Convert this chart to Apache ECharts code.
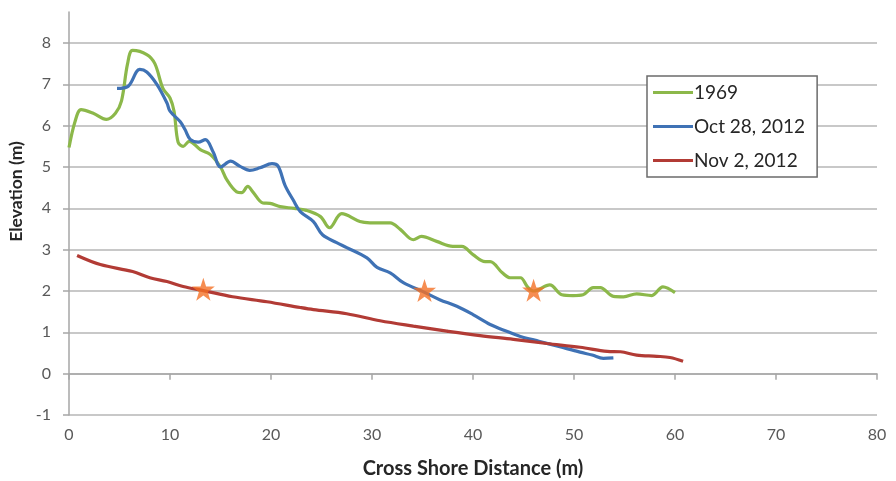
<!DOCTYPE html>
<html>
<head>
<meta charset="utf-8">
<script src="https://cdn.jsdelivr.net/npm/echarts@6/dist/echarts.min.js"></script>
<style>
html,body{margin:0;padding:0;background:#fff;}
#chart{width:896px;height:481px;}
</style>
</head>
<body>
<div id="chart"></div>
<script>
var seriesNames = ['1969', 'Oct 28, 2012', 'Nov 2, 2012'];
var xTicks = [0, 10, 20, 30, 40, 50, 60, 70, 80];
var yTicks = [-1, 0, 1, 2, 3, 4, 5, 6, 7, 8];

var data1969 = [
  [0, 5.47], [0.6, 6.1], [1.2, 6.39], [2.4, 6.3], [3.7, 6.15], [4.6, 6.3], [5.2, 6.6],
  [5.8, 7.5], [6.3, 7.82], [7.7, 7.72], [8.5, 7.5], [9.3, 6.9], [10, 6.67], [10.4, 6.35],
  [10.8, 5.6], [11.3, 5.5], [11.9, 5.62], [13, 5.42], [14, 5.3], [15, 5.0], [15.6, 4.7],
  [16.6, 4.4], [17.1, 4.38], [17.7, 4.53], [18.2, 4.4], [19.2, 4.13], [19.9, 4.12],
  [20.9, 4.04], [22.3, 4.0], [23.5, 3.95], [24.9, 3.8], [25.8, 3.53], [27, 3.87],
  [28.8, 3.68], [29.8, 3.65], [31.8, 3.65], [32.8, 3.49], [34.1, 3.24], [34.9, 3.32],
  [36.4, 3.2], [38, 3.08], [38.9, 3.08], [40, 2.88], [41.2, 2.71], [41.7, 2.71],
  [42.9, 2.44], [43.7, 2.32], [44.7, 2.32], [45.4, 2.1], [46, 2.0], [47.6, 2.15],
  [48.8, 1.91], [49.9, 1.89], [50.9, 1.91], [51.9, 2.08], [52.6, 2.08], [53.9, 1.87],
  [54.9, 1.86], [56.2, 1.93], [57.7, 1.89], [58.8, 2.1], [60, 1.96]
];
var dataOct = [
  [4.75, 6.9], [5.85, 6.95], [7.0, 7.36], [7.7, 7.3], [8.7, 7.0], [9.7, 6.55], [10, 6.35],
  [11, 6.1], [11.5, 5.9], [12, 5.67], [12.8, 5.6], [13.5, 5.66], [14.3, 5.35], [15, 5.0],
  [16, 5.14], [16.9, 5.02], [17.9, 4.92], [18.9, 4.98], [20.1, 5.08], [20.7, 5.02],
  [21.4, 4.55], [22.2, 4.2], [22.9, 3.92], [24.2, 3.68], [25.1, 3.36], [26.5, 3.17],
  [27.5, 3.05], [29.5, 2.8], [30.5, 2.57], [31.8, 2.44], [33.1, 2.2], [35, 1.99],
  [36.7, 1.79], [38.4, 1.63], [40, 1.43], [41.7, 1.19], [43.4, 1.02], [44.7, 0.9],
  [46.6, 0.78], [48.6, 0.65], [50.6, 0.52], [51.8, 0.45], [52.9, 0.37], [53.9, 0.38]
];
var dataNov = [
  [0.8, 2.86], [3.1, 2.64], [6.3, 2.47], [8.0, 2.32], [9.7, 2.23], [11.3, 2.11],
  [13.3, 2.01], [16.2, 1.86], [19.6, 1.74], [22.9, 1.6], [24.2, 1.55], [27.5, 1.45],
  [30.8, 1.28], [34.1, 1.15], [37.4, 1.03], [40.7, 0.92], [44, 0.83], [47.3, 0.73],
  [50.6, 0.64], [53.3, 0.54], [54.6, 0.53], [56.2, 0.45], [58.2, 0.42], [59.5, 0.39],
  [60.8, 0.3]
];
var starPoints = [[13.3, 2.04], [35.2, 2.01], [46, 2.02]];

var colors = ['#8cb84a', '#3f72b5', '#b23b35'];
var starColor = '#f47025';
var starPath = 'path://M50,0 L61.8,35.3 L98.9,35.3 L69,57.3 L80.3,92.7 L50,70.7 L19.7,92.7 L31,57.3 L1.1,35.3 L38.2,35.3 Z';

var chart = echarts.init(document.getElementById('chart'), null, {renderer: 'canvas'});
var font = 'Lato, "Open Sans", sans-serif';

function lineSeries(name, data, color) {
  return {
    name: name, type: 'line', data: data, smooth: 0.35, symbol: 'none',
    lineStyle: {color: color, width: 3.2}, itemStyle: {color: color},
    z: 3
  };
}

chart.setOption({
  animation: false,
  backgroundColor: '#fff',
  grid: {left: 69, right: 19, top: 12, bottom: 66, containLabel: false, outerBoundsMode: 'none'},
  legend: {
    data: seriesNames,
    orient: 'vertical',
    left: 647, top: 76,
    backgroundColor: '#fff',
    borderColor: '#6b6b6b', borderWidth: 1.5,
    padding: [7, 12, 7, 6],
    itemGap: 15,
    itemWidth: 40, itemHeight: 3,
    icon: 'rect',
    textStyle: {fontFamily: font, fontSize: 19, color: '#262626', padding: [0, 0, 0, -4]}
  },
  xAxis: {
    type: 'value', min: 0, max: 80, interval: 10,
    name: 'Cross Shore Distance (m)', nameLocation: 'middle', nameGap: 44,
    nameTextStyle: {fontFamily: font, fontSize: 20, fontWeight: 'bold', color: '#262626'},
    axisLine: {show: true, lineStyle: {color: '#a6a6a6', width: 1.5}},
    axisTick: {show: true, inside: false, length: 6, lineStyle: {color: '#a6a6a6', width: 1.5}},
    axisLabel: {fontFamily: font, fontSize: 16, color: '#595959', margin: 12},
    splitLine: {show: false}
  },
  yAxis: {
    type: 'value', min: -1, max: 8.75, interval: 1,
    name: 'Elevation (m)', nameLocation: 'middle', nameGap: 36, nameRotate: 90,
    nameTextStyle: {fontFamily: font, fontSize: 17.5, fontWeight: 'bold', color: '#262626', padding: [0, 0, 0, 44]},
    axisLine: {show: true, onZero: false, lineStyle: {color: '#a6a6a6', width: 1.5}},
    axisTick: {show: true, length: 6, lineStyle: {color: '#a6a6a6', width: 1.5},
      customValues: yTicks},
    axisLabel: {fontFamily: font, fontSize: 16, color: '#595959', margin: 18,
      customValues: yTicks},
    splitLine: {show: true, lineStyle: {color: '#c8c8c8', width: 2}}
  },
  series: [
    lineSeries(seriesNames[0], data1969, colors[0]),
    lineSeries(seriesNames[1], dataOct, colors[1]),
    lineSeries(seriesNames[2], dataNov, colors[2]),
    {
      name: 'stars', type: 'scatter', data: starPoints, symbol: starPath, symbolSize: 23,
      itemStyle: {color: starColor}, z: 5, silent: true
    }
  ]
});
</script>
</body>
</html>
